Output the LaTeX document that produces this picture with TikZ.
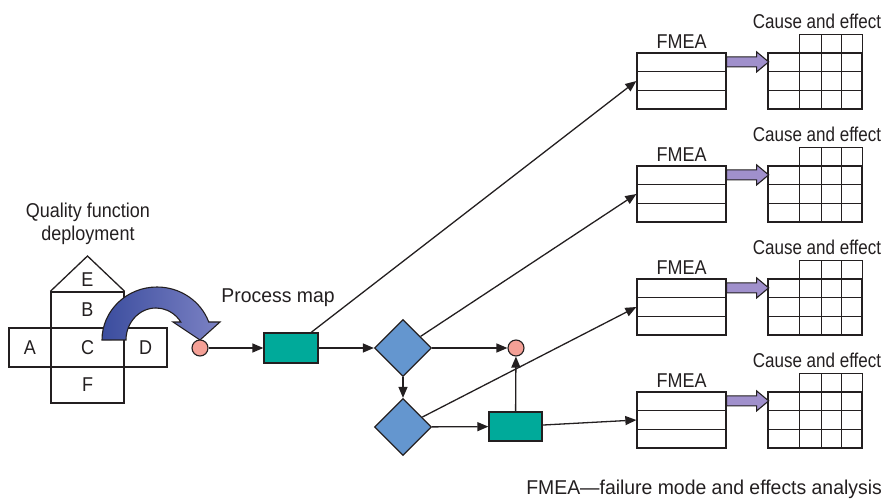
\documentclass[tikz,border=0pt]{standalone}
\usepackage{fontspec}
\setmainfont{Liberation Sans}[FakeStretch=0.9]
\newfontfamily\narrowfont{Liberation Sans}[FakeStretch=0.85]
\newfontfamily\widefont{Liberation Sans}[FakeStretch=0.97]
\usetikzlibrary{arrows.meta,shapes.geometric,calc}
\definecolor{ink}{HTML}{231F20}
\definecolor{diacol}{HTML}{6496CF}
\definecolor{tealcol}{HTML}{00AA9A}
\definecolor{pinkcol}{HTML}{F4A096}
\definecolor{purp}{HTML}{A090CC}
\definecolor{qdark}{HTML}{3B4D9E}
\definecolor{qlight}{HTML}{7C82C4}
\begin{document}
\begin{tikzpicture}[x=1pt,y=-1pt,font=\fontsize{20}{24}\selectfont,
  ln/.style={draw=ink,line width=1.3pt},
  arr/.style={ln,-{Triangle[length=11pt,width=9pt]}},
  cell/.style={ln,rectangle,inner sep=0pt,text=ink},
  dia/.style={diamond,ln,fill=diacol,minimum width=57pt,minimum height=57pt,inner sep=0pt},
  proc/.style={rectangle,ln,fill=tealcol,inner sep=0pt},
  dotnode/.style={circle,ln,line width=1.1pt,fill=pinkcol,minimum size=16pt,inner sep=0pt},
  tbl/.style={rectangle,ln,inner sep=0pt},
  lbl/.style={anchor=base,text=ink,inner sep=0pt},
  fatarrow/.style={draw=ink,line width=1.1pt,fill=purp,line join=miter}]
\useasboundingbox (0,0) rectangle (883,498);

% Quality function deployment house
\node[lbl] (qfd1) at (88,217) {Quality function};
\node[lbl] (qfd2) at (88,240) {deployment};
\node[cell,minimum width=73pt,minimum height=36pt] (B) at (87.5,310) {B};
\node[cell,minimum width=42pt,minimum height=39pt] (A) at (30,347.5) {A};
\node[cell,minimum width=73pt,minimum height=39pt] (C) at (87.5,347.5) {C};
\node[cell,minimum width=43pt,minimum height=39pt] (D) at (145.5,347.5) {D};
\node[cell,minimum width=73pt,minimum height=36pt] (F) at (87.5,385) {F};
\draw[ln,line join=miter] (B.north west) -- (87.5,256) -- (B.north east);
\node[lbl] (E) at (87.5,286) {E};

% curved arrow
\path[draw=ink,line width=1.1pt,left color=qdark,right color=qlight,line join=miter]
  (102,340) arc[start angle=180,end angle=340.1,x radius=55,y radius=53]
  -- (220,322) -- (200,340) -- (173,322) -- (180.8,322)
  arc[start angle=325.8,end angle=180,x radius=30,y radius=32] -- cycle;

% process map
\node[lbl] (pm) at (278,302) {\widefont Process map};
\node[dotnode] (c1) at (200,348) {};
\node[proc,minimum width=54pt,minimum height=30pt] (r1) at (291,348) {};
\node[dia] (d1) at (403,348) {};
\node[dia] (d2) at (403,427) {};
\node[dotnode] (c2) at (516,348) {};
\node[proc,minimum width=53pt,minimum height=29pt] (r2) at (515.5,426.5) {};

\draw[arr] (c1) -- (r1);
\draw[arr] (r1) -- (d1);
\draw[arr] (d1) -- (c2);
\draw[arr] (d1) -- (d2);
\draw[arr] (d2) -- (r2);
\draw[arr] (r2) -- (c2);

% FMEA and cause-and-effect tables
\foreach \i/\y in {1/53,2/166,3/279,4/392}{
  \node[tbl,minimum width=89pt,minimum height=56pt] (f\i) at (681.5,\y+28) {};
  \node[lbl] (fl\i) at (681.5,\y-5) {FMEA};
  \draw[ln] ($(f\i.north west)!1/3!(f\i.south west)$) -- ($(f\i.north east)!1/3!(f\i.south east)$);
  \draw[ln] ($(f\i.north west)!2/3!(f\i.south west)$) -- ($(f\i.north east)!2/3!(f\i.south east)$);
  \node[tbl,minimum width=94pt,minimum height=56pt] (ce\i) at (815,\y+28) {};
  \node[lbl] (cl\i) at (817,\y-25) {\narrowfont Cause and effect};
  \draw[ln] ($(ce\i.north west)!1/3!(ce\i.south west)$) -- ($(ce\i.north east)!1/3!(ce\i.south east)$);
  \draw[ln] ($(ce\i.north west)!2/3!(ce\i.south west)$) -- ($(ce\i.north east)!2/3!(ce\i.south east)$);
  \draw[ln,line join=miter] ($(ce\i.north west)+(32,0)$) -- ($(ce\i.north west)+(32,-18)$) -- ($(ce\i.north east)+(0,-18)$) -- (ce\i.north east);
  \foreach \dx in {32,54,74}{
    \draw[ln] ($(ce\i.north west)+(\dx,-18)$) -- ($(ce\i.south west)+(\dx,0)$);
  }
  \coordinate (m\i) at ($(f\i.north east)!1/6!(f\i.south east)$);
  \draw[fatarrow] ($(m\i)+(0,-5)$) -- ++(30,0) -- ++(0,-5) -- ++(12,10) -- ++(-12,10) -- ++(0,-5) -- ++(-30,0) -- cycle;
}

\draw[arr] (r1) -- (f1.west);
\draw[arr] (d1) -- (f2.west);
\draw[arr] (d2) -- (f3.west);
\draw[arr] (r2) -- (f4.west);

\node[lbl,anchor=base east] (note) at (882,494) {\widefont FMEA—failure mode and effects analysis};
\end{tikzpicture}
\end{document}
